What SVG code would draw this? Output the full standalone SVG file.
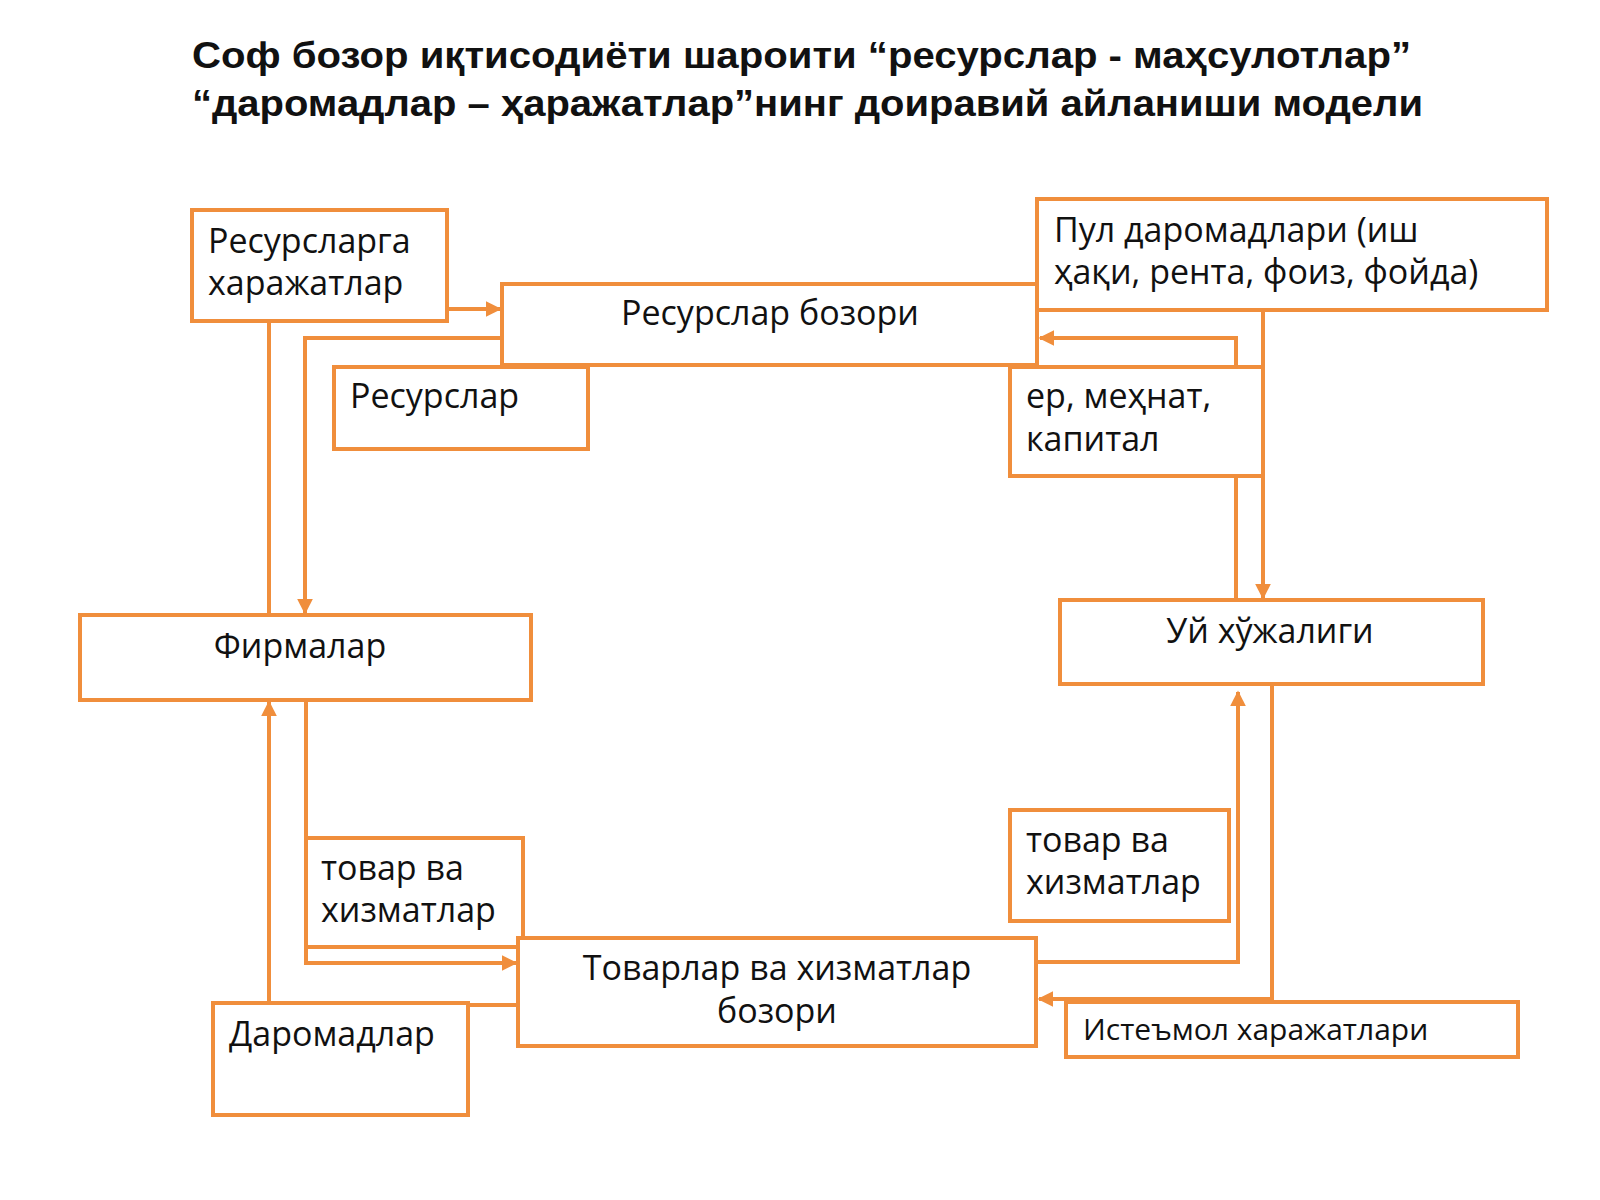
<svg xmlns="http://www.w3.org/2000/svg" width="1600" height="1200" viewBox="0 0 1600 1200">
<defs>
<style>
.b{fill:#fff;stroke:#F08E3C;stroke-width:4}
.t{font-family:"Open Sans","Noto Sans",sans-serif;font-size:34px;fill:#111}
.c{fill:none;stroke:#F08E3C;stroke-width:4}
.h{font-family:"Liberation Sans",Arial,sans-serif;font-size:37px;font-weight:bold;fill:#111}
</style>
<marker id="a" viewBox="0 0 10 10" refX="9" refY="5" markerWidth="4" markerHeight="4" orient="auto"><path d="M0,0L10,5L0,10z" fill="#F08E3C"/></marker>
</defs>
<rect width="1600" height="1200" fill="#fff"/>
<text class="h" x="192" y="68" textLength="1219" lengthAdjust="spacingAndGlyphs">Соф бозор иқтисодиёти шароити “ресурслар - маҳсулотлар”</text>
<text class="h" x="192" y="116" textLength="1231" lengthAdjust="spacingAndGlyphs">“даромадлар – ҳаражатлар”нинг доиравий айланиши модели</text>
<g id="connectors">
<path class="c" d="M447,309H500" marker-end="url(#a)"/>
<path class="c" d="M269,321V615"/>
<path class="c" d="M502,338H305V613" marker-end="url(#a)"/>
<path class="c" d="M1236,600V338H1040" marker-end="url(#a)"/>
<path class="c" d="M1263,310V598" marker-end="url(#a)"/>
<path class="c" d="M306,700V963H516" marker-end="url(#a)"/>
<path class="c" d="M518,1005H269V702" marker-end="url(#a)"/>
<path class="c" d="M1036,962H1238V692" marker-end="url(#a)"/>
<path class="c" d="M1272,684V999H1039" marker-end="url(#a)"/>
</g>
<g id="n1"><rect class="b" x="192" y="210" width="255" height="111"/><text class="t" x="208" y="253">Ресурсларга</text><text class="t" x="208" y="295">харажатлар</text></g>
<g id="n2"><rect class="b" x="1037" y="199" width="510" height="111"/><text class="t" x="1054" y="242">Пул даромадлари (иш</text><text class="t" x="1054" y="284">ҳақи, рента, фоиз, фойда)</text></g>
<g id="n3"><rect class="b" x="502" y="284" width="535" height="81"/><text class="t" x="770" y="325" text-anchor="middle">Ресурслар бозори</text></g>
<g id="n4"><rect class="b" x="334" y="367" width="254" height="82"/><text class="t" x="350" y="408">Ресурслар</text></g>
<g id="n5"><rect class="b" x="1010" y="367" width="253" height="109"/><text class="t" x="1026" y="408">ер, меҳнат,</text><text class="t" x="1026" y="451">капитал</text></g>
<g id="n6"><rect class="b" x="80" y="615" width="451" height="85"/><text class="t" x="300" y="658" text-anchor="middle">Фирмалар</text></g>
<g id="n7"><rect class="b" x="1060" y="600" width="423" height="84"/><text class="t" x="1270" y="643" text-anchor="middle">Уй хўжалиги</text></g>
<g id="n8"><rect class="b" x="306" y="838" width="217" height="109"/><text class="t" x="321" y="880">товар ва</text><text class="t" x="321" y="922">хизматлар</text></g>
<g id="n9"><rect class="b" x="1010" y="810" width="219" height="111"/><text class="t" x="1026" y="852">товар ва</text><text class="t" x="1026" y="894">хизматлар</text></g>
<g id="n10"><rect class="b" x="518" y="938" width="518" height="108"/><text class="t" x="777" y="980" text-anchor="middle">Товарлар ва хизматлар</text><text class="t" x="777" y="1023" text-anchor="middle">бозори</text></g>
<g id="n11"><rect class="b" x="213" y="1003" width="255" height="112"/><text class="t" x="229" y="1046">Даромадлар</text></g>
<g id="n12"><rect class="b" x="1066" y="1002" width="452" height="55"/><text class="t" x="1083" y="1040" style="font-size:30px">Истеъмол харажатлари</text></g>
</svg>
